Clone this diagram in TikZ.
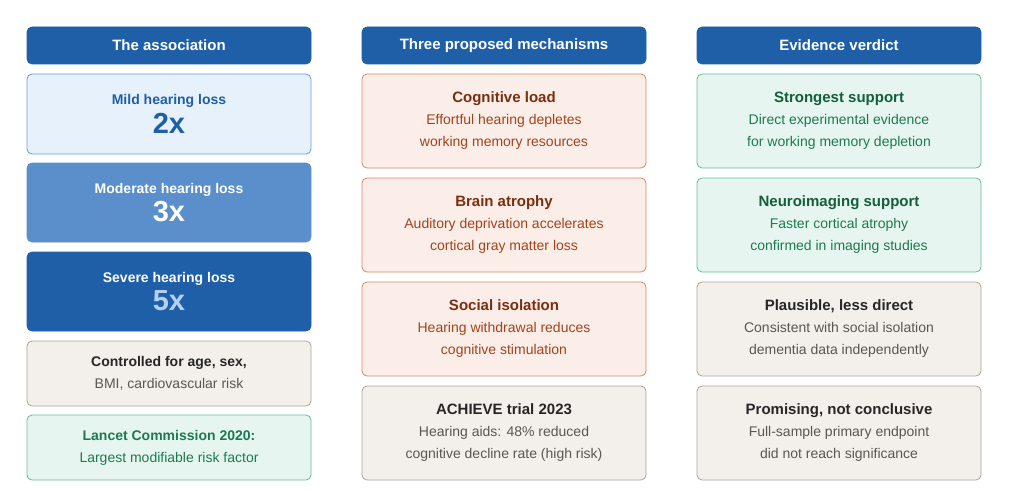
\documentclass[tikz,border=0pt]{standalone}
\usepackage{fontspec}
\setmainfont{Liberation Sans}
\usepackage{xcolor}
\definecolor{hdr}{HTML}{1F5FA8}
\definecolor{mildfill}{HTML}{E7F1FC}
\definecolor{mildline}{HTML}{6A9BD6}
\definecolor{modfill}{HTML}{5B8FCC}
\definecolor{lightblue}{HTML}{B3D0F2}
\definecolor{grayfill}{HTML}{F3F0EB}
\definecolor{grayline}{HTML}{A8A39B}
\definecolor{graytext}{HTML}{5A5650}
\definecolor{greenfill}{HTML}{E6F5EF}
\definecolor{greenline}{HTML}{62BE98}
\definecolor{greentext}{HTML}{1D7A50}
\definecolor{greentitle}{HTML}{135E3C}
\definecolor{redfill}{HTML}{FBEDE7}
\definecolor{redline}{HTML}{D88664}
\definecolor{redtext}{HTML}{A3431C}
\definecolor{redtitle}{HTML}{7A2E10}
\begin{document}
\begin{tikzpicture}[x=1pt,y=-1pt, font=\fontsize{14}{22}\selectfont,
  box/.style = {draw, rounded corners=5pt, line width=0.8pt, minimum width=284pt, align=center, inner sep=0pt},
  head/.style = {box, fill=hdr, draw=hdr, text=white, minimum height=37pt, font=\fontsize{15}{18}\selectfont\bfseries},
  mild/.style = {box, fill=mildfill, draw=mildline, text=hdr},
  mod/.style = {box, fill=modfill, draw=modfill, text=white},
  sev/.style = {box, fill=hdr, draw=hdr, text=white},
  gray/.style = {box, fill=grayfill, draw=grayline, text=graytext},
  green/.style = {box, fill=greenfill, draw=greenline, text=greentext},
  red/.style = {box, fill=redfill, draw=redline, text=redtext},
  big/.style = {font=\fontsize{29}{30}\selectfont\bfseries}]
\useasboundingbox (0,0) rectangle (1024,492);
% headers
\node[head] (h1) at (169,45.5) {The association};
\node[head] (h2) at (504,45.5) {Three proposed mechanisms};
\node[head] (h3) at (839,45.5) {Evidence verdict};
% association column
\node[mild, minimum height=80pt] (mild) at (169,114) {\textbf{Mild hearing loss}\\[4pt]{\fontsize{29}{30}\selectfont\bfseries 2x}};
\node[mod, minimum height=79pt] (moderate) at (169,202.5) {\textbf{Moderate hearing loss}\\[4pt]{\fontsize{29}{30}\selectfont\bfseries 3x}};
\node[sev, minimum height=79pt] (severe) at (169,291.5) {\textbf{Severe hearing loss}\\[4pt]{\fontsize{29}{30}\selectfont\bfseries\color{lightblue} 5x}};
\node[gray, minimum height=65pt] (controlled) at (169,373.5) {{\color{black!85}\textbf{Controlled for age, sex,}}\\BMI, cardiovascular risk};
\node[green, minimum height=65pt] (lancet) at (169,447.5) {\textbf{Lancet Commission 2020:}\\Largest modifiable risk factor};
% mechanisms column
\node[red, minimum height=94pt] (load) at (504,121) {{\color{redtitle}\fontsize{15}{22}\selectfont\bfseries Cognitive load}\\Effortful hearing depletes\\working memory resources};
\node[red, minimum height=94pt] (atrophy) at (504,225) {{\color{redtitle}\fontsize{15}{22}\selectfont\bfseries Brain atrophy}\\Auditory deprivation accelerates\\cortical gray matter loss};
\node[red, minimum height=94pt] (isolation) at (504,329) {{\color{redtitle}\fontsize{15}{22}\selectfont\bfseries Social isolation}\\Hearing withdrawal reduces\\cognitive stimulation};
\node[gray, minimum height=94pt] (achieve) at (504,433) {{\color{black!85}\fontsize{15}{22}\selectfont\bfseries ACHIEVE trial 2023}\\Hearing aids: 48\% reduced\\cognitive decline rate (high risk)};
% verdict column
\node[green, minimum height=94pt] (strong) at (839,121) {{\color{greentitle}\fontsize{15}{22}\selectfont\bfseries Strongest support}\\Direct experimental evidence\\for working memory depletion};
\node[green, minimum height=94pt] (neuro) at (839,225) {{\color{greentitle}\fontsize{15}{22}\selectfont\bfseries Neuroimaging support}\\Faster cortical atrophy\\confirmed in imaging studies};
\node[gray, minimum height=94pt] (plausible) at (839,329) {{\color{black!85}\fontsize{15}{22}\selectfont\bfseries Plausible, less direct}\\Consistent with social isolation\\dementia data independently};
\node[gray, minimum height=94pt] (promising) at (839,433) {{\color{black!85}\fontsize{15}{22}\selectfont\bfseries Promising, not conclusive}\\Full-sample primary endpoint\\did not reach significance};
\end{tikzpicture}
\end{document}
